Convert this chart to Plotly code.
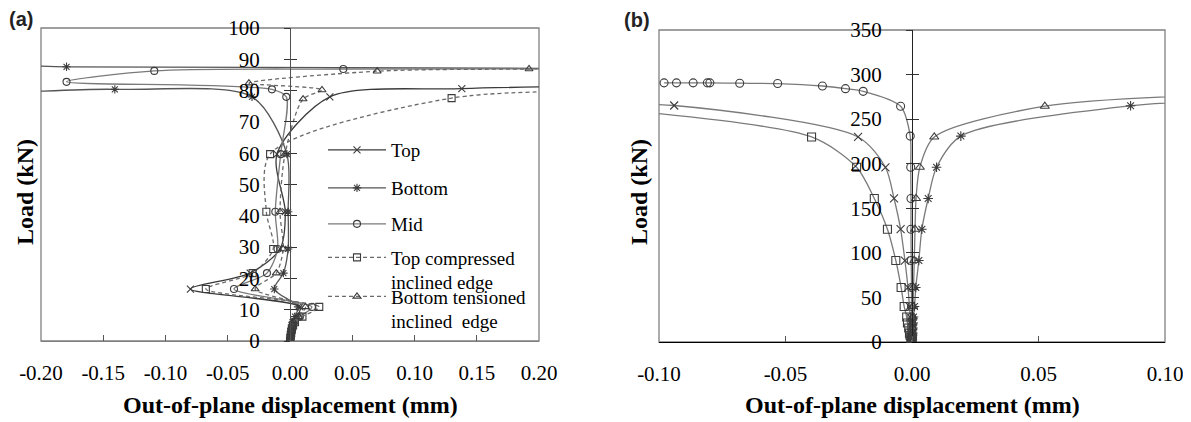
import plotly.graph_objects as go

# ---------------- Panel (a) data: load (kN) vs out-of-plane displacement (mm)
a_top_load = [0, 1, 2, 3, 4, 5, 6, 7.8, 10.9, 16.6, 21.7, 29.4, 41.3, 59.7, 78.0, 80.6, 81.6]
a_top_disp = [0.0, 0.0003, 0.0006, 0.001, 0.0015, 0.002, 0.003, 0.006, 0.008, -0.080, -0.032, -0.008, -0.0038, -0.0105, 0.032, 0.138, 0.30]

a_bot_load = [0, 1, 2, 3, 4, 5, 6, 7.8, 10.9, 16.6, 21.7, 29.4, 41.3, 59.7, 78.0, 80.4, 81.0, 87.4, 87.6, 87.0]
a_bot_disp = [0.0, 0.0003, 0.0006, 0.001, 0.0013, 0.0017, 0.002, 0.004, 0.0065, -0.0126, -0.0053, -0.0015, -0.0015, -0.0025, -0.0305, -0.1407, -0.30, -0.30, -0.1795, 0.30]

a_mid_load = [0, 1, 2, 3, 4, 5, 6, 7.8, 10.9, 16.6, 21.7, 29.4, 41.3, 59.7, 78.0, 80.4, 82.8, 86.3, 86.9, 87.0]
a_mid_disp = [0.0, 0.0004, 0.0008, 0.0012, 0.0016, 0.002, 0.003, 0.008, 0.0176, -0.045, -0.0185, -0.010, -0.0118, -0.0075, -0.003, -0.0145, -0.1795, -0.109, 0.0428, 0.30]

a_tc_load = [0, 1, 2, 3, 4, 5, 6, 7.8, 10.9, 16.6, 21.7, 29.4, 41.3, 59.7, 77.6, 79.6]
a_tc_disp = [0.0, 0.0003, 0.0006, 0.001, 0.0015, 0.0025, 0.004, 0.010, 0.0235, -0.0676, -0.030, -0.0135, -0.019, -0.016, 0.1298, 0.30]

a_bt_load = [0, 1, 2, 3, 4, 5, 6, 7.8, 10.9, 16.6, 21.7, 29.4, 41.3, 59.7, 77.3, 80.2, 82.4, 86.2, 86.9, 87.0]
a_bt_disp = [0.0, 0.0004, 0.0008, 0.0012, 0.0016, 0.002, 0.003, 0.007, 0.0124, -0.028, -0.011, -0.0055, -0.008, -0.004, 0.0105, 0.0257, -0.033, 0.070, 0.192, 0.30]

# ---------------- Panel (b) data
b_top_load = [0, 2.5, 5, 7.5, 10, 15.7, 21.3, 28, 39.9, 61.2, 91.4, 126.5, 161, 196, 230, 265.3, 266]
b_top_disp = [0.0, -0.0001, -0.0001, -0.0002, -0.0003, -0.0004, -0.0005, -0.0007, -0.001, -0.0016, -0.0028, -0.0045, -0.0071, -0.0105, -0.0213, -0.094, -0.13]

b_bot_load = [0, 2.5, 5, 7.5, 10, 15.7, 21.3, 28, 39.9, 61.2, 91.4, 126.5, 161, 196, 231, 265, 271]
b_bot_disp = [0.0, 0.0001, 0.0001, 0.0002, 0.0003, 0.0004, 0.0005, 0.0006, 0.001, 0.0015, 0.0027, 0.0039, 0.0064, 0.0097, 0.0193, 0.0864, 0.13]

b_mid_load = [0, 2.5, 5, 7.5, 10, 15.7, 21.3, 28, 39.9, 61.2, 91.4, 126.5, 161, 196, 231, 264.5, 281.2, 284.2, 287.2, 289.9, 290.3, 290.7, 290.7, 290.7, 290.7, 290.7]
b_mid_disp = [0.0, 0.0, 0.0, 0.0, 0.0, -0.0001, -0.0001, -0.0001, -0.0002, -0.0002, -0.0003, -0.0004, -0.0004, -0.0005, -0.0007, -0.0045, -0.0193, -0.0263, -0.0354, -0.0531, -0.0681, -0.0799, -0.0809, -0.0865, -0.0931, -0.098]

b_tc_load = [0, 2.5, 5, 7.5, 10, 15.7, 21.3, 28, 39.9, 61.2, 91.4, 126.5, 161, 196, 230, 264]
b_tc_disp = [0.0, -0.0002, -0.0005, -0.0008, -0.001, -0.0013, -0.0018, -0.0021, -0.0031, -0.0043, -0.0064, -0.0097, -0.0149, -0.0219, -0.0397, -0.13]

b_bt_load = [0, 2.5, 5, 7.5, 10, 15.7, 21.3, 28, 39.9, 61.2, 91.4, 126.5, 161, 196, 230, 264.5, 278]
b_bt_disp = [0.0, 0.0, 0.0001, 0.0001, 0.0001, 0.0002, 0.0002, 0.0003, 0.0004, 0.0006, 0.0009, 0.0012, 0.0016, 0.0031, 0.0088, 0.0525, 0.13]

names = ["Top", "Bottom", "Mid", "Top compressed<br>inclined edge", "Bottom tensioned<br>inclined  edge"]
a_x_ticks = [-0.20, -0.15, -0.10, -0.05, 0.00, 0.05, 0.10, 0.15, 0.20]
a_x_labels = ["-0.20", "-0.15", "-0.10", "-0.05", "0.00", "0.05", "0.10", "0.15", "0.20"]
b_x_ticks = [-0.10, -0.05, 0.00, 0.05, 0.10]
b_x_labels = ["-0.10", "-0.05", "0.00", "0.05", "0.10"]

W, H = 1191, 422
OFF = 8  # page body margin of the written html


def PX(p):
    return (p - OFF) / W


def PY(p):
    return 1 - (p - OFF) / H


SERIF = "Liberation Serif, Times New Roman, serif"
MK = "#3c3c3c"
LN = "#7a7a7a"

symbols = ["x-thin-open", "asterisk-open", "circle-open", "square-open", "triangle-up-open"]
dashes = ["solid", "solid", "solid", "4px,3px", "4px,3px"]
line_cols = ["#3a3a3a", "#555555", "#7a7a7a", "#6a6a6a", "#6a6a6a"]

a_sets = [(a_top_disp, a_top_load), (a_bot_disp, a_bot_load), (a_mid_disp, a_mid_load),
          (a_tc_disp, a_tc_load), (a_bt_disp, a_bt_load)]
b_sets = [(b_top_disp, b_top_load), (b_bot_disp, b_bot_load), (b_mid_disp, b_mid_load),
          (b_tc_disp, b_tc_load), (b_bt_disp, b_bt_load)]

fig = go.Figure()
legends = ["legend", "legend2", "legend3", "legend4", "legend5"]
for i, (xs, ys) in enumerate(a_sets):
    fig.add_trace(go.Scatter(
        x=xs, y=ys, name=names[i], mode="lines+markers", xaxis="x", yaxis="y",
        line=dict(color=line_cols[i], width=1.3, dash=dashes[i], shape="spline", smoothing=0.8),
        marker=dict(symbol=symbols[i], size=7, color=MK, line=dict(color=MK, width=1.1)),
        legend=legends[i], showlegend=True))
for i, (xs, ys) in enumerate(b_sets):
    fig.add_trace(go.Scatter(
        x=xs, y=ys, name=names[i], mode="lines+markers", xaxis="x2", yaxis="y2",
        line=dict(color=LN, width=1.3, shape="spline", smoothing=0.8),
        marker=dict(symbol=symbols[i], size=8, color=MK, line=dict(color=MK, width=1.1)),
        showlegend=False))
# empty traces so the crossing-tick overlay axes are drawn
fig.add_trace(go.Scatter(x=[], y=[], xaxis="x", yaxis="y3", showlegend=False, hoverinfo="skip"))
fig.add_trace(go.Scatter(x=[], y=[], xaxis="x2", yaxis="y4", showlegend=False, hoverinfo="skip"))

A_L, A_R, A_T, A_B, A_0 = 41, 539, 28, 341, 290
B_L, B_R, B_T, B_B, B_0 = 659, 1165, 30, 342, 912

tickfont = dict(family=SERIF, size=21, color="black")
xcommon = dict(showgrid=False, zeroline=False, ticks="inside", ticklen=6, tickwidth=1.2,
               tickcolor="#555", tickfont=tickfont, ticklabelstandoff=13,
               showline=True, linewidth=1.3, fixedrange=True)
ycommon = dict(showgrid=False, zeroline=False, tickwidth=1.2, tickcolor="#333",
               tickfont=tickfont, fixedrange=True, anchor="free")

fig.update_layout(
    width=W, height=H, margin=dict(l=0, r=0, t=0, b=0, autoexpand=False),
    paper_bgcolor="white", plot_bgcolor="white", showlegend=True,
    xaxis=dict(domain=[PX(A_L), PX(A_R)], range=[-0.2, 0.2], tickvals=a_x_ticks,
               ticktext=a_x_labels, anchor="y", linecolor="#808080", **xcommon),
    yaxis=dict(domain=[PY(A_B), PY(A_T)], range=[0, 100], dtick=10, position=PX(A_0),
               ticks="outside", ticklen=6, showline=True, linecolor="#505050", linewidth=1.3,
               ticklabelstandoff=20, **ycommon),
    yaxis3=dict(overlaying="y", range=[0, 100], dtick=10, position=PX(A_0), ticks="inside",
                ticklen=6, showticklabels=False, showline=False, **ycommon),
    xaxis2=dict(domain=[PX(B_L), PX(B_R)], range=[-0.1, 0.1], tickvals=b_x_ticks,
                ticktext=b_x_labels, anchor="y2", linecolor="black", **xcommon),
    yaxis2=dict(domain=[PY(B_B), PY(B_T)], range=[0, 350], dtick=50, position=PX(B_0),
                ticks="outside", ticklen=6, showline=True, linecolor="#222", linewidth=1.3,
                ticklabelstandoff=20, **ycommon),
    yaxis4=dict(overlaying="y2", range=[0, 350], dtick=50, position=PX(B_0), ticks="inside",
                ticklen=6, showticklabels=False, showline=False, **ycommon),
)

leg_common = dict(bgcolor="rgba(0,0,0,0)", font=dict(family=SERIF, size=19, color="black"),
                  xanchor="left", yanchor="middle", itemwidth=58, valign="top")
leg_y = [150, 188, 224, 270, 309]
for i, lg in enumerate(legends):
    fig.update_layout({lg: dict(x=PX(323), y=PY(leg_y[i]), **leg_common)})

# frames
for xr, yr in (("x domain", "y domain"), ("x2 domain", "y2 domain")):
    fig.add_shape(type="rect", xref=xr, yref=yr, x0=0, x1=1, y0=0, y1=1,
                  line=dict(color="#808080", width=1.3), layer="below")

title_font = dict(family=SERIF, size=24, color="black")
for xc in (A_0, B_0):
    fig.add_annotation(text="<b>Out-of-plane displacement (mm)</b>", x=PX(xc), y=PY(405),
                       xref="paper", yref="paper", showarrow=False, font=title_font,
                       xanchor="center", yanchor="middle")
for xc in (25, 639):
    fig.add_annotation(text="<b>Load (kN)</b>", x=PX(xc), y=PY(192), textangle=-90,
                       xref="paper", yref="paper", showarrow=False, font=title_font,
                       xanchor="center", yanchor="middle")
lab_font = dict(family="Liberation Sans, Arial, sans-serif", size=20, color="#222")
fig.add_annotation(text="<b>(a)</b>", x=PX(7), y=PY(19), xref="paper", yref="paper",
                   showarrow=False, font=lab_font, xanchor="left", yanchor="middle")
fig.add_annotation(text="<b>(b)</b>", x=PX(622), y=PY(20), xref="paper", yref="paper",
                   showarrow=False, font=lab_font, xanchor="left", yanchor="middle")

fig.write_html("out.html")
